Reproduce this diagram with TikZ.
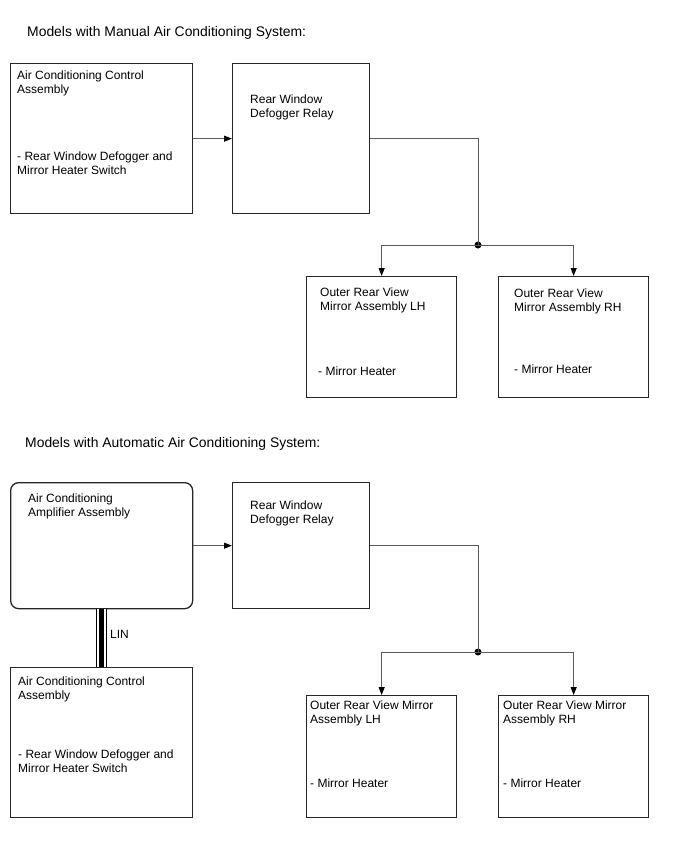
\documentclass[tikz,border=0pt]{standalone}
\usepackage{fontspec}
\setmainfont{Liberation Sans}
\usetikzlibrary{arrows.meta,positioning}
\definecolor{frame}{HTML}{262626}
\definecolor{wire}{HTML}{5A5A5A}

\begin{document}
\begin{tikzpicture}[x=1pt,y=-1pt,
  unit/.style={draw=frame,line width=1.3pt,inner sep=0pt,anchor=north west},
  caption/.style={font=\fontsize{13.9}{16}\selectfont,anchor=base west,inner sep=0pt},
  label/.style={font=\fontsize{12}{14}\selectfont,anchor=north west,inner sep=0pt,align=left},
  signal/.style={draw=wire,line width=1pt,-{Triangle[length=8pt,width=6pt,color=black]}},
  wireline/.style={draw=wire,line width=1pt},
  junction/.style={circle,fill=black,inner sep=0pt,minimum size=7pt},
  linouter/.style={draw=black,line width=1pt,double=white,double distance=8.4pt},
  lincore/.style={draw=black,line width=5.5pt}
]
\useasboundingbox (0,0) rectangle (688,852);

% manual air conditioning
\node[caption] (titleA) at (27,36) {Models with Manual Air Conditioning System:};

\node[unit,minimum width=182pt,minimum height=150pt] (ctrlA) at (10,63) {};
\node[unit,minimum width=137pt,minimum height=150pt] (relayA) at (232,63) {};
\node[unit,minimum width=150pt,minimum height=121pt] (lhA) at (306,276) {};
\node[unit,minimum width=150pt,minimum height=121pt] (rhA) at (498,276) {};

\node[label] (ctrlAname) at (17,70.5) {Air Conditioning Control\\Assembly};
\node[label] (ctrlApart) at (17,151.5) {- Rear Window Defogger and\\Mirror Heater Switch};
\node[label] (relayAname) at (250,94.5) {Rear Window\\Defogger Relay};
\node[label] (lhAname) at (320,287.5) {Outer Rear View\\Mirror Assembly LH};
\node[label] (lhApart) at (318,366.5) {- Mirror Heater};
\node[label] (rhAname) at (514,288.5) {Outer Rear View\\Mirror Assembly RH};
\node[label] (rhApart) at (514,364.5) {- Mirror Heater};

\node[junction] (jA) at (478,245) {};
\draw[signal] (ctrlA) -- (relayA);
\draw[wireline] (relayA.east) -| (jA.center);
\draw[signal] (jA.center) -| (lhA.north);
\draw[signal] (jA.center) -| (rhA.north);

% automatic air conditioning
\node[caption] (titleB) at (25,447) {Models with Automatic Air Conditioning System:};

\node[unit,rounded corners=8pt,minimum width=182pt,minimum height=126pt] (ampB) at (10,482) {};
\node[unit,minimum width=137pt,minimum height=126pt] (relayB) at (232,482) {};
\node[unit,minimum width=182pt,minimum height=150pt] (ctrlB) at (10,667) {};
\node[unit,minimum width=150pt,minimum height=122pt] (lhB) at (306,695) {};
\node[unit,minimum width=150pt,minimum height=122pt] (rhB) at (498,695) {};

\node[label] (ampBname) at (28,493.5) {Air Conditioning\\Amplifier Assembly};
\node[label] (relayBname) at (250,500.5) {Rear Window\\Defogger Relay};
\node[label] (ctrlBname) at (18,676.5) {Air Conditioning Control\\Assembly};
\node[label] (ctrlBpart) at (18,749.5) {- Rear Window Defogger and\\Mirror Heater Switch};
\node[label] (lhBname) at (310,700.5) {Outer Rear View Mirror\\Assembly LH};
\node[label] (lhBpart) at (310,778.5) {- Mirror Heater};
\node[label] (rhBname) at (503,700.5) {Outer Rear View Mirror\\Assembly RH};
\node[label] (rhBpart) at (503,778.5) {- Mirror Heater};

\node[junction] (jB) at (478,652) {};
\draw[signal] (ampB) -- (relayB);
\draw[wireline] (relayB.east) -| (jB.center);
\draw[signal] (jB.center) -| (lhB.north);
\draw[signal] (jB.center) -| (rhB.north);

\draw[linouter] (ampB.south) -- (ctrlB.north);
\draw[lincore] (ampB.south) -- (ctrlB.north);
\node[label] (lin) at (110,630.5) {LIN};
\end{tikzpicture}
\end{document}
